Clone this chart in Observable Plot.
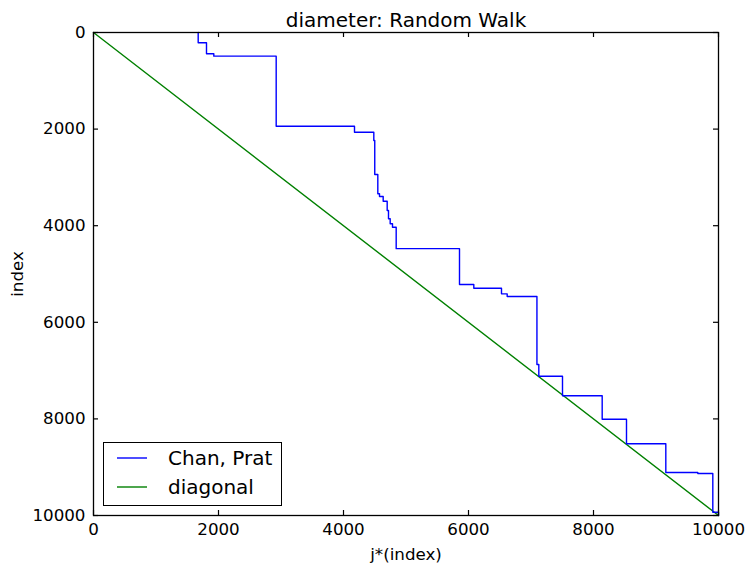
<!DOCTYPE html>
<html>
<head>
<meta charset="utf-8">
<script src="https://cdn.jsdelivr.net/npm/d3@7"></script>
<script src="https://cdn.jsdelivr.net/npm/@observablehq/plot@0.6"></script>
<style>
  html, body { margin: 0; padding: 0; background: #fff; }
  #wrap { position: relative; width: 746px; height: 563px; font-family: "DejaVu Sans", sans-serif; }
  #legend { position: absolute; left: 103px; top: 442px; width: 179px; height: 64px; border: 1.3px solid #000; background: #fff; box-sizing: border-box; }
  .item { position: absolute; left: 0; display: flex; align-items: center; font-size: 20px; color: #000; }
  .item svg { margin-left: 13px; margin-right: 21px; }
</style>
</head>
<body>
<div id="wrap"></div>
<script>
// Step vertices of the "Chan, Prat" series, drawn with a step-before curve
const chanJ = [1675, 1808, 1925, 2923, 4176, 4485, 4500, 4549, 4576, 4635, 4699, 4720, 4747, 4784, 4843, 5856, 6085, 6528, 6619, 7095, 7125, 7504, 8139, 8528, 9157, 9669, 9909, 10000, 10000];
const chanIndex = [0, 213, 441, 490, 1940, 2064, 2236, 2940, 3340, 3395, 3493, 3685, 3857, 3961, 4031, 4475, 5217, 5294, 5411, 5466, 6874, 7116, 7520, 8006, 8516, 9110, 9130, 9932, 10000];
const diagJ = [0, 10000];
const diagIndex = [0, 10000];
const xTicks = [0, 2000, 4000, 6000, 8000, 10000];
const yTicks = [0, 2000, 4000, 6000, 8000, 10000];
const seriesNames = ["Chan, Prat", "diagonal"];
const seriesColors = ["#0000ff", "#008000"];
const title = "diameter: Random Walk";

const chan = chanJ.map((j, i) => ({j, index: chanIndex[i]}));
const diag = diagJ.map((j, i) => ({j, index: diagIndex[i]}));

const W = 746, H = 563, mL = 93, mR = 28, mT = 32, mB = 48;
const frameW = W - mL - mR, frameH = H - mT - mB, tickLen = 5;

const chart = Plot.plot({
  width: W, height: H,
  marginLeft: mL, marginRight: mR, marginTop: mT, marginBottom: mB,
  style: {fontFamily: "DejaVu Sans, sans-serif", background: "#fff", color: "#000"},
  x: {domain: [0, 10000]},
  y: {domain: [0, 10000], reverse: true},
  marks: [
    Plot.line(diag, {x: "j", y: "index", stroke: seriesColors[1], strokeWidth: 1.4}),
    Plot.line(chan, {x: "j", y: "index", stroke: seriesColors[0], strokeWidth: 1.4, curve: "step-before"}),
    Plot.ruleX(xTicks, {x: d => d, insetBottom: frameH - tickLen, stroke: "#000", strokeWidth: 1.2}),
    Plot.ruleX(xTicks, {x: d => d, insetTop: frameH - tickLen, stroke: "#000", strokeWidth: 1.2}),
    Plot.ruleY(yTicks, {y: d => d, insetRight: frameW - tickLen, stroke: "#000", strokeWidth: 1.2}),
    Plot.ruleY(yTicks, {y: d => d, insetLeft: frameW - tickLen, stroke: "#000", strokeWidth: 1.2}),
    Plot.frame({stroke: "#000", strokeWidth: 1.3}),
    Plot.axisX({ticks: xTicks, tickSize: 0, tickPadding: 8, fontSize: 16.7, tickFormat: d => String(d),
      label: "j*(index)", labelAnchor: "center", labelArrow: "none", labelOffset: 44}),
    Plot.axisY({ticks: yTicks, tickSize: 0, tickPadding: 8, fontSize: 16.7, tickFormat: d => String(d),
      label: "index", labelAnchor: "center", labelArrow: "none", labelOffset: 82}),
    Plot.text([title], {frameAnchor: "top", text: d => d, dy: -6, lineAnchor: "bottom", fontSize: 20, fill: "#000"})
  ]
});

const wrap = document.getElementById("wrap");
wrap.appendChild(chart);

const legend = document.createElement("div");
legend.id = "legend";
seriesNames.forEach((name, i) => {
  const item = document.createElement("div");
  item.className = "item";
  item.style.top = (i === 0 ? 3 : 32) + "px";
  item.innerHTML = `<svg width="30" height="24"><line x1="0" x2="30" y1="12" y2="12" stroke="${seriesColors[i]}" stroke-width="1.4"/></svg><span>${name}</span>`;
  legend.appendChild(item);
});
wrap.appendChild(legend);
</script>
</body>
</html>
